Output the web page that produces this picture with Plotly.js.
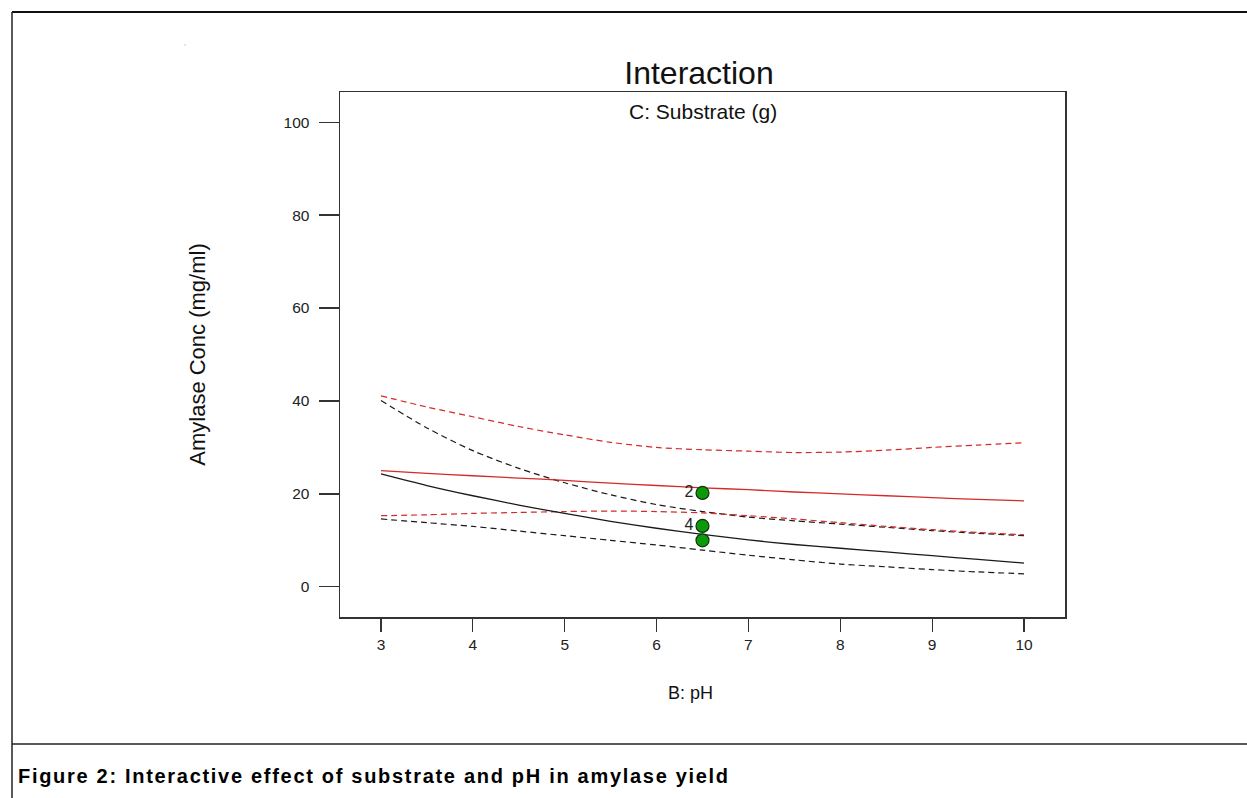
<!DOCTYPE html>
<html>
<head>
<meta charset="utf-8">
<script src="https://cdn.plot.ly/plotly-3.0.1.min.js"></script>
<style>
  html, body { margin: 0; padding: 0; background: #fff; }
  #chart { width: 1247px; height: 798px; }
</style>
</head>
<body>
<div id="chart"></div>
<script>
// ---- data ----
const pH = [3, 3.5, 4, 4.5, 5, 5.5, 6, 6.5, 7, 7.5, 8, 8.5, 9, 9.5, 10];

// C: Substrate low (black)
const blackMean  = [24.3, 21.8, 19.6, 17.6, 15.8, 14.1, 12.6, 11.3, 10.1, 9.1, 8.3, 7.5, 6.7, 5.9, 5.1];
const blackUpper = [40.1, 34.2, 29.3, 25.5, 22.4, 19.8, 17.7, 16.2, 15.0, 14.2, 13.5, 12.8, 12.1, 11.5, 11.0];
const blackLower = [14.6, 13.8, 13.0, 12.0, 11.0, 10.0, 9.0, 7.9, 6.8, 5.8, 4.9, 4.3, 3.7, 3.2, 2.8];

// C: Substrate high (red)
const redMean  = [25.0, 24.4, 23.9, 23.4, 22.9, 22.3, 21.8, 21.3, 20.9, 20.4, 20.0, 19.6, 19.2, 18.8, 18.5];
const redUpper = [41.1, 38.7, 36.6, 34.5, 32.7, 31.1, 30.0, 29.5, 29.2, 28.9, 29.0, 29.4, 30.0, 30.5, 31.0];
const redLower = [15.3, 15.5, 15.8, 16.0, 16.2, 16.3, 16.2, 15.9, 15.3, 14.6, 13.8, 13.0, 12.3, 11.7, 11.2];

// design points
const ptX = [6.5, 6.5, 6.5];
const ptY = [20.2, 13.1, 10.0];
const ptLabels = ['2', '4', ''];

const xTicks = [3, 4, 5, 6, 7, 8, 9, 10];
const yTicks = [0, 20, 40, 60, 80, 100];

const captionText = 'Figure 2: Interactive effect of substrate and pH in amylase yield';

// ---- styling ----
const BLACK = '#1a1a1a';
const RED = '#d42a2a';
const solid = (c) => ({ color: c, width: 1.3, shape: 'spline', smoothing: 0.8 });
const dashed = (c) => ({ color: c, width: 1.2, dash: '6px,4px', shape: 'spline', smoothing: 0.8 });

const traces = [
  { x: pH, y: blackUpper, mode: 'lines', line: dashed(BLACK), hoverinfo: 'skip' },
  { x: pH, y: blackLower, mode: 'lines', line: dashed(BLACK), hoverinfo: 'skip' },
  { x: pH, y: redUpper, mode: 'lines', line: dashed(RED), hoverinfo: 'skip' },
  { x: pH, y: redLower, mode: 'lines', line: dashed(RED), hoverinfo: 'skip' },
  { x: pH, y: blackMean, mode: 'lines', line: solid(BLACK), name: 'C-' },
  { x: pH, y: redMean, mode: 'lines', line: solid(RED), name: 'C+' },
  {
    x: ptX, y: ptY, mode: 'markers+text', text: ptLabels, textposition: 'middle left',
    textfont: { family: 'Liberation Sans, Arial, sans-serif', size: 16, color: '#222' },
    marker: { size: 13, color: '#0a9a0a', line: { color: '#113311', width: 1.2 } },
    cliponaxis: false
  }
];

// plot area in pixels: left 340, right 1065, top 92, bottom 617
const PL = 340, PR = 1065, PT = 92, PB = 617;
const px = (v) => (v - PL) / (PR - PL);
const py = (v) => (PB - v) / (PB - PT);

const FONT = 'Liberation Sans, Arial, sans-serif';

const layout = {
  width: 1247, height: 798,
  paper_bgcolor: '#ffffff', plot_bgcolor: '#ffffff',
  showlegend: false,
  margin: { l: PL, r: 1247 - PR, t: PT, b: 798 - PB, pad: 0 },
  title: {
    text: 'Interaction',
    font: { family: FONT, size: 32, color: '#111' },
    x: px(699), xref: 'paper', xanchor: 'center',
    y: 1 - 73 / 798, yref: 'container', yanchor: 'middle'
  },
  xaxis: {
    range: [2.554, 10.446],
    tickvals: xTicks, ticktext: xTicks.map(String),
    ticks: 'outside', ticklen: 13, tickwidth: 1.3, tickcolor: '#333',
    showline: true, linecolor: '#333', linewidth: 1.5, mirror: true,
    showgrid: false, zeroline: false,
    tickfont: { family: FONT, size: 15.5, color: '#222' },
    title: { text: '' },
    automargin: false
  },
  yaxis: {
    range: [-6.5, 106.5],
    tickvals: yTicks, ticktext: yTicks.map(String),
    ticks: 'outside', ticklen: 20, tickwidth: 1.3, tickcolor: '#333',
    showline: true, linecolor: '#333', linewidth: 1.5, mirror: true,
    showgrid: false, zeroline: false,
    tickfont: { family: FONT, size: 15.5, color: '#222' },
    ticklabelstandoff: 6,
    title: { text: 'Amylase Conc (mg/ml)', font: { family: FONT, size: 22, color: '#111' }, standoff: 72 },
    automargin: false
  },
  annotations: [
    {
      text: 'C: Substrate (g)', showarrow: false,
      xref: 'paper', yref: 'paper', x: px(703), y: py(112), xanchor: 'center', yanchor: 'middle',
      font: { family: FONT, size: 21, color: '#111' }
    },
    {
      text: 'B: pH', showarrow: false,
      xref: 'paper', yref: 'paper', x: px(690), y: py(693), xanchor: 'center', yanchor: 'middle',
      font: { family: FONT, size: 18, color: '#111' }
    },
    {
      text: captionText, showarrow: false,
      xref: 'paper', yref: 'paper', x: px(18), y: py(776), xanchor: 'left', yanchor: 'middle',
      font: { family: FONT, size: 20, color: '#000', weight: 'bold' }
    }
  ],
  shapes: [
    // outer figure frame
    { type: 'line', xref: 'paper', yref: 'paper', x0: px(12), x1: px(1247), y0: py(12), y1: py(12), line: { color: '#111', width: 2 } },
    { type: 'line', xref: 'paper', yref: 'paper', x0: px(12), x1: px(12), y0: py(12), y1: py(798), line: { color: '#222', width: 1.5 } },
    { type: 'line', xref: 'paper', yref: 'paper', x0: px(12), x1: px(1247), y0: py(744), y1: py(744), line: { color: '#222', width: 1.5 } },
    // tiny speck seen in the reference
    { type: 'rect', xref: 'paper', yref: 'paper', x0: px(184.5), x1: px(185.5), y0: py(45.5), y1: py(44.5), line: { width: 0 }, fillcolor: '#999' }
  ]
};

Plotly.newPlot('chart', traces, layout, { staticPlot: true, displayModeBar: false }).then(function (gd) {
  // the reference caption is letter-spaced: spread it to its width (18px .. 728px), keep left edge at 18px
  const t = gd.querySelector('.annotation[data-index="2"] text');
  if (!t) return;
  const host = gd.getBoundingClientRect();
  const w0 = t.getBoundingClientRect().width;
  const n = captionText.length - 1;
  const spacing = Math.max(0, (710 - w0) / n);
  t.style.letterSpacing = spacing.toFixed(2) + 'px';
  t.setAttribute('text-anchor', 'start');
  const r = t.getBoundingClientRect();
  const curX = parseFloat(t.getAttribute('x')) || 0;
  t.setAttribute('x', (curX + (18 - (r.left - host.left))).toFixed(2));
});
</script>
</body>
</html>
